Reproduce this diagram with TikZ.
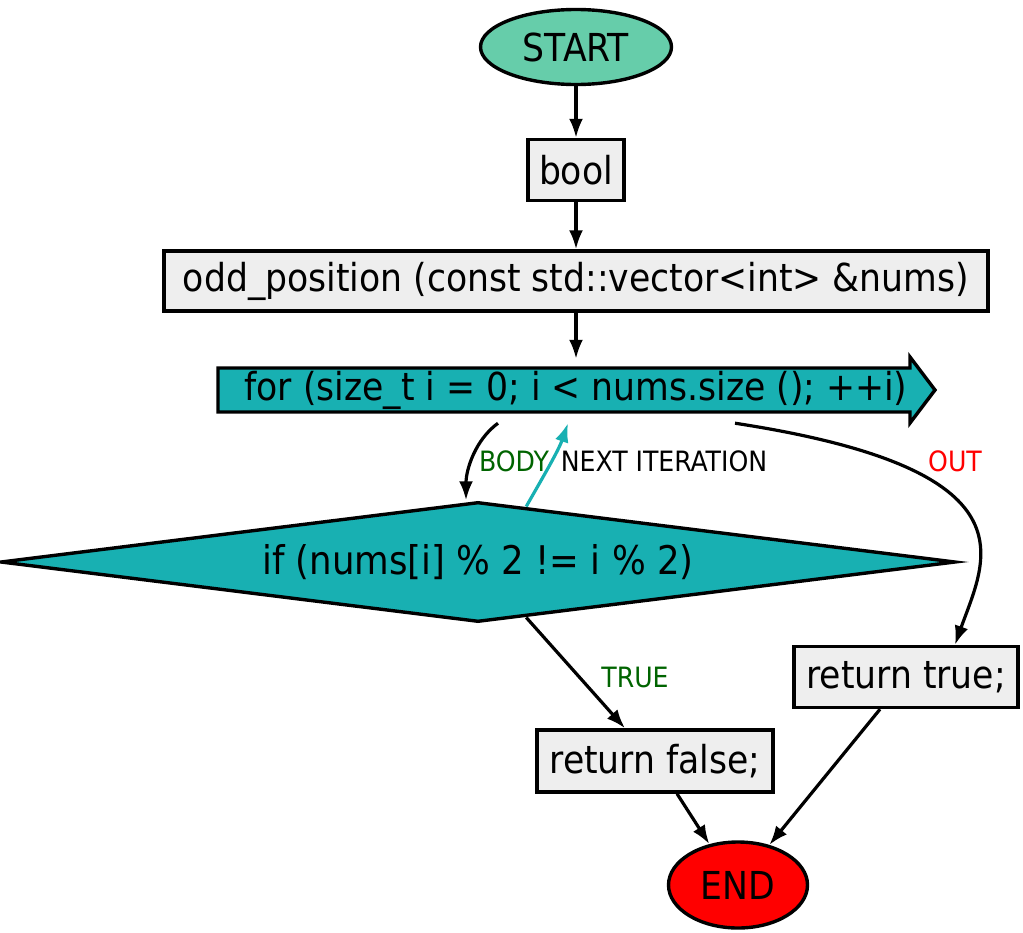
\documentclass[tikz,border=0pt]{standalone}
\usepackage{xcolor}
\usepackage{fontspec}
\setmainfont{DejaVu Sans Condensed}
\usepackage{tikz}
\usetikzlibrary{shapes.geometric,arrows.meta}

\definecolor{startgreen}{RGB}{102,205,170}
\definecolor{loopteal}{RGB}{24,176,178}
\definecolor{boxgray}{RGB}{238,238,238}
\definecolor{lblgreen}{RGB}{0,100,0}

\tikzset{
  >={Latex[length=19bp,width=14bp]},
  stmt/.style={draw,fill=boxgray,line width=3.4bp,inner sep=0pt,font=\fontsize{38.5bp}{44bp}\selectfont},
  term/.style={ellipse,draw,line width=3.4bp,inner sep=0pt,font=\fontsize{38.5bp}{44bp}\selectfont},
  flow/.style={->,line width=3.2bp},
  lbl/.style={inner sep=0pt,font=\fontsize{28bp}{32bp}\selectfont}
}

\begin{document}
\begin{tikzpicture}[x=1bp,y=-1bp]
    \useasboundingbox (0,0) rectangle (1023,933);
    % Terminals and statements
    \node[term,fill=startgreen,minimum width=191bp,minimum height=75bp] (start) at (576,47) {START};
    \node[stmt,minimum width=96bp,minimum height=61bp] (ret) at (576,170) {bool};
    \node[stmt,minimum width=824bp,minimum height=60bp] (func) at (576,281) {odd\_position (const std::vector<int> \&nums)};
    % Loop header
    \draw[fill=loopteal,line width=3.4bp] (218,368) -- (910,368) -- (910,357) -- (935,390)
        -- (910,423) -- (910,412) -- (218,412) -- cycle;
    \node[inner sep=0pt,minimum width=717bp,minimum height=66bp,font=\fontsize{38.5bp}{44bp}\selectfont] (loop) at (576,390) {for (size\_t i = 0; i < nums.size (); ++i)};
    % Condition
    \node[diamond,draw,fill=loopteal,line width=3.4bp,inner sep=0pt,aspect=8,minimum width=955bp,minimum height=120bp,font=\fontsize{39.5bp}{44bp}\selectfont] (cond) at (478,562) {if (nums[i] \% 2 != i \% 2)};
    \node[stmt,minimum width=224bp,minimum height=61bp] (rettrue) at (906,677) {return true;};
    \node[stmt,minimum width=236bp,minimum height=62bp] (retfalse) at (655,761) {return false;};
    \node[term,fill=red,minimum width=139bp,minimum height=86bp] (end) at (738,885) {END};
    % Connectors
    \draw[flow] (start) -- (ret);
    \draw[flow] (ret) -- (func);
    \draw[flow] (func) -- ([yshift=-2bp]loop.north);
    \draw[flow] ([xshift=-78bp]loop.south) .. controls (475,440) and (466,470) .. ([xshift=-12bp]cond.north);
    \draw[flow,loopteal] (cond.49) .. controls (540,482) and (558,452) .. ([xshift=-8bp]loop.south);
    \draw[flow] ([xshift=159bp]loop.south) .. controls (1040,470) and (985,560) .. ([xshift=49bp]rettrue.north);
    \draw[flow] (cond.-49) -- ([xshift=-30bp]retfalse.north);
    \draw[flow] ([xshift=22bp]retfalse.south) -- (end.125);
    \draw[flow] ([xshift=-26bp]rettrue.south) -- (end.52);
    % Labels
    \node[lbl,text=lblgreen] (bodylbl) at (514,461) {BODY};
    \node[lbl] (nextlbl) at (664,461) {NEXT ITERATION};
    \node[lbl,text=red] (outlbl) at (955,461) {OUT};
    \node[lbl,text=lblgreen] (truelbl) at (635,677) {TRUE};
\end{tikzpicture}
\end{document}
